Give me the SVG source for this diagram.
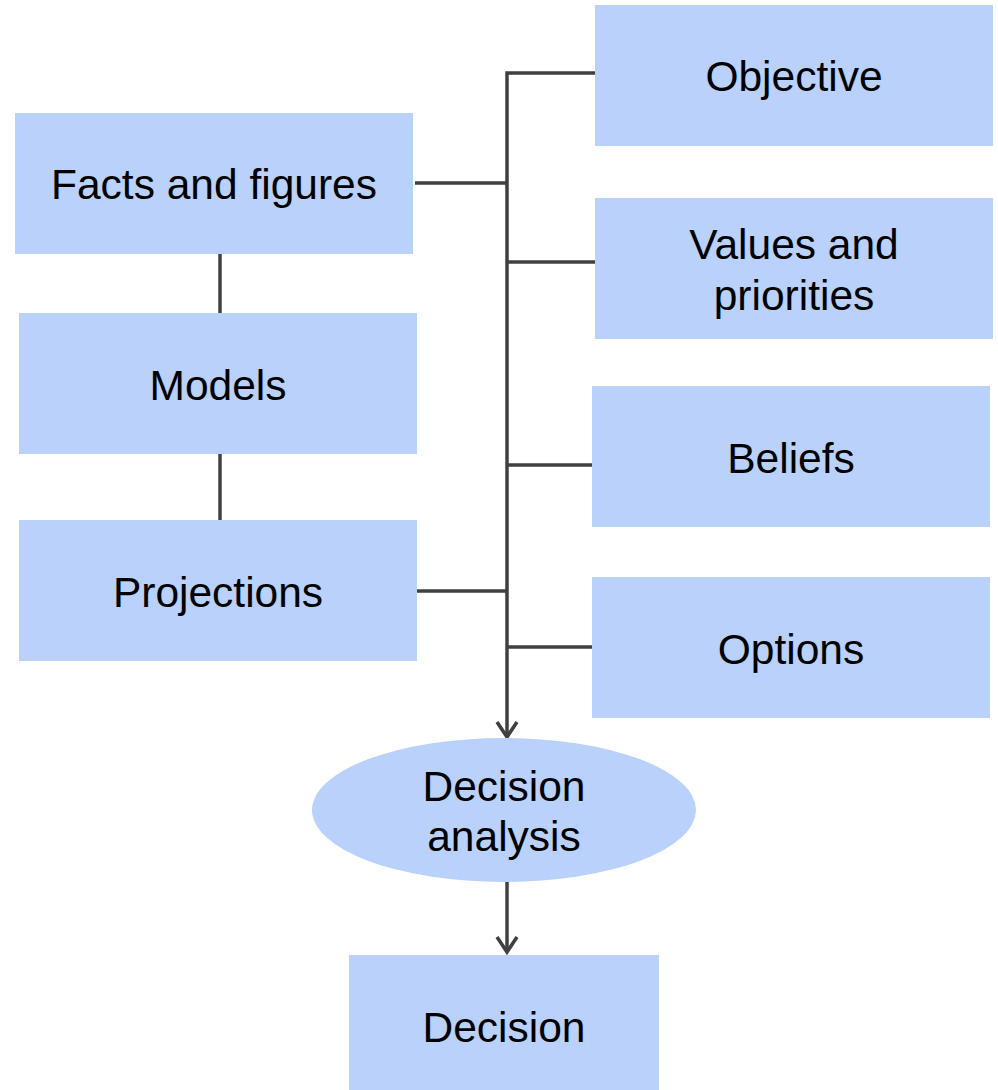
<svg xmlns="http://www.w3.org/2000/svg" width="998" height="1090" viewBox="0 0 998 1090">
<style>
.box{fill:#b9d1fb;}
.t{font-family:"Liberation Sans",Arial,sans-serif;font-size:42.5px;fill:#000;text-anchor:middle;}
.ln{stroke:#404040;stroke-width:3.5;fill:none;}
</style>
<defs>
<marker id="arr" markerWidth="24" markerHeight="24" refX="20" refY="12" orient="auto" markerUnits="userSpaceOnUse" viewBox="0 0 24 24">
<path d="M5,2 L20,12 L5,22" fill="none" stroke="#404040" stroke-width="3.5"/>
</marker>
</defs>
<rect width="998" height="1090" fill="#fff"/>
<g id="connectors">
<path class="ln" d="M595,73 H507 V737" marker-end="url(#arr)"/>
<path class="ln" d="M415,183 H507"/>
<path class="ln" d="M507,262 H595"/>
<path class="ln" d="M507,465 H592"/>
<path class="ln" d="M415,591 H507"/>
<path class="ln" d="M507,647 H592"/>
<path class="ln" d="M220,254 V313"/>
<path class="ln" d="M220,454 V520"/>
<path class="ln" d="M507,882 V952" marker-end="url(#arr)"/>
</g>
<g id="objective"><rect class="box" x="595" y="5" width="398" height="141"/><text class="t" x="794" y="91">Objective</text></g>
<g id="facts"><rect class="box" x="15" y="113" width="398" height="141"/><text class="t" x="214" y="199">Facts and figures</text></g>
<g id="values"><rect class="box" x="595" y="198" width="398" height="141"/><text class="t" x="794" y="259">Values and</text><text class="t" x="794" y="310">priorities</text></g>
<g id="models"><rect class="box" x="19" y="313" width="398" height="141"/><text class="t" x="218" y="400">Models</text></g>
<g id="beliefs"><rect class="box" x="592" y="386" width="398" height="141"/><text class="t" x="791" y="473">Beliefs</text></g>
<g id="projections"><rect class="box" x="19" y="520" width="398" height="141"/><text class="t" x="218" y="607">Projections</text></g>
<g id="options"><rect class="box" x="592" y="577" width="398" height="141"/><text class="t" x="791" y="664">Options</text></g>
<g id="analysis"><ellipse class="box" cx="504" cy="810" rx="192" ry="72"/><text class="t" x="504" y="801">Decision</text><text class="t" x="504" y="851">analysis</text></g>
<g id="decision"><rect class="box" x="349" y="955" width="310" height="135"/><text class="t" x="504" y="1042">Decision</text></g>
</svg>
